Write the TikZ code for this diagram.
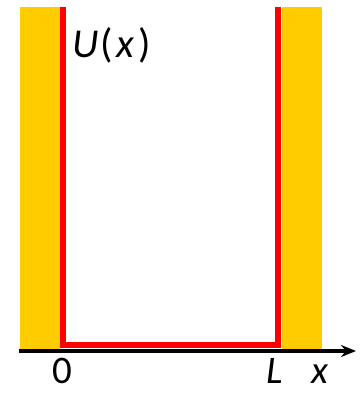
\documentclass[tikz,border=0pt]{standalone}
\usepackage{fontspec}
\setmainfont{Carlito}
\usetikzlibrary{arrows.meta}
\definecolor{wallyellow}{RGB}{255,204,0}
\definecolor{potred}{RGB}{255,0,0}
\tikzset{
  wall/.style={fill=wallyellow, draw=none},
  pot/.style={draw=potred, line width=6.5pt, line join=miter},
  axis/.style={draw=black, line width=4pt, -{Stealth[length=15pt,width=12pt]}},
  lbl/.style={font=\fontsize{39}{39}\selectfont, inner sep=0pt, anchor=base west}
}
\begin{document}
\begin{tikzpicture}[x=1pt,y=-1pt]
\useasboundingbox (0,0) rectangle (362,394);
\fill[wall] (20,7) rectangle (60,349);
\fill[wall] (282,7) rectangle (322,349);
\coordinate (tl) at (63,7);
\coordinate (bl) at (63,345);
\coordinate (br) at (278,345);
\coordinate (tr) at (278,7);
\draw[pot] (tl) -- (bl) -- (br) -- (tr);
\coordinate (a0) at (19,351);
\coordinate (a1) at (356,351);
\draw[axis] (a0) -- (a1);
\node[lbl, font=\fontsize{41}{41}\selectfont] (U) at (72,57) {\textit{U}\kern2pt(\kern4pt\textit{x}\kern4pt)};
\node[lbl] (zero) at (52,383) {0};
\node[lbl] (L) at (266,383) {\itshape L};
\node[lbl] (X) at (311,383) {\itshape x};
\end{tikzpicture}
\end{document}
